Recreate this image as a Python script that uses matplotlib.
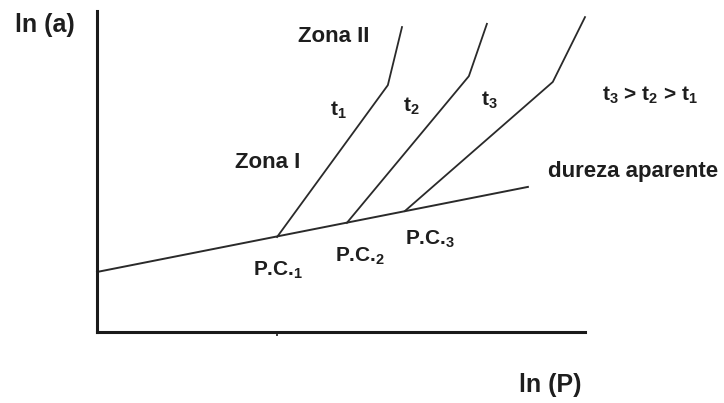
import matplotlib
matplotlib.use("Agg")
import matplotlib.pyplot as plt

plt.rcParams["font.family"] = ["Liberation Sans", "DejaVu Sans"]
plt.rcParams["mathtext.fontset"] = "custom"
plt.rcParams["mathtext.rm"] = "Liberation Sans:bold"
plt.rcParams["mathtext.it"] = "Liberation Sans:bold"
plt.rcParams["mathtext.bf"] = "Liberation Sans:bold"
plt.rcParams["mathtext.default"] = "rm"

# apparent hardness line (ln a vs ln P)
dureza_x = [0.0, 8.83]
dureza_y = [1.87, 4.52]

# critical points P.C.1..3 on the hardness line
pc_x = [3.69, 5.12, 6.31]
pc_y = [2.96, 3.40, 3.77]

# Zone I / Zone II break points and upper ends for t1, t2, t3
break_x = [5.96, 7.62, 9.34]
break_y = [7.69, 7.97, 7.79]
top_x = [6.25, 7.99, 10.0]
top_y = [9.50, 9.60, 9.81]

pc_labels = ["P.C.$_1$", "P.C.$_2$", "P.C.$_3$"]
t_labels = ["t$_1$", "t$_2$", "t$_3$"]

W, H = 724, 403
fig = plt.figure(figsize=(W / 100, H / 100), dpi=100)
ax = fig.add_axes([97 / W, (H - 332) / H, 488 / W, 321 / H])
ax.set_xlim(0, 10)
ax.set_ylim(0, 10)

line_c = "#2a2a2a"
text_c = "#1e1e1e"

ax.plot(dureza_x, dureza_y, color=line_c, lw=1.4, clip_on=False)
for i in range(3):
    ax.plot([pc_x[i], break_x[i], top_x[i]], [pc_y[i], break_y[i], top_y[i]],
            color=line_c, lw=1.3, clip_on=False)

for s in ["top", "right"]:
    ax.spines[s].set_visible(False)
for s in ["left", "bottom"]:
    ax.spines[s].set_linewidth(2.2)
    ax.spines[s].set_color("#1a1a1a")

ax.set_yticks([])
ax.set_xticks([pc_x[0]])
ax.set_xticklabels([])
ax.tick_params(axis="x", length=3, width=1.2, color="#1a1a1a")

def px(x, y, s, size=16, **kw):
    fig.text(x / W, 1 - y / H, s, fontsize=size, fontweight="bold",
             color=text_c, ha="center", va="center", **kw)

px(45, 25, "ln (a)", size=18)
px(550, 385, "ln (P)", size=18)
px(334, 37, "Zona II")
px(268, 162, "Zona I")
px(338, 110, t_labels[0], size=15)
px(411, 106, t_labels[1], size=15)
px(489, 100, t_labels[2], size=15)
px(650, 95, "t$_3$ > t$_2$ > t$_1$", size=15)
px(633, 172, "dureza aparente")
px(278, 270, pc_labels[0], size=15)
px(360, 256, pc_labels[1], size=15)
px(430, 239, pc_labels[2], size=15)

fig.savefig("out.png", dpi=100)
